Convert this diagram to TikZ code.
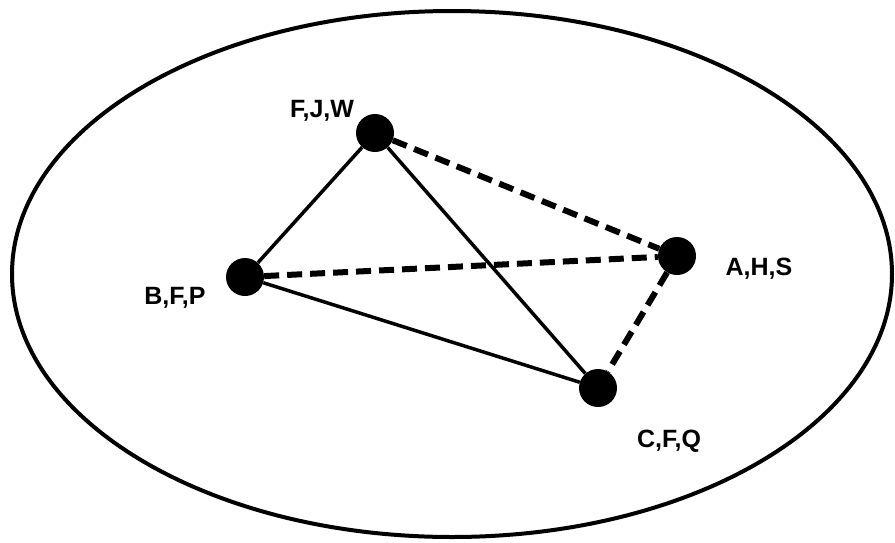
\documentclass[tikz,border=0pt]{standalone}
\usepackage{fontspec}
\setmainfont{Liberation Sans}
\begin{document}
\begin{tikzpicture}[x=1pt,y=-1pt,
  vertex/.style={circle,fill=black,inner sep=0pt,minimum size=38pt},
  lbl/.style={font=\fontsize{25}{28}\selectfont\bfseries,inner sep=0pt},
  solidedge/.style={line width=3.5pt},
  dashedge/.style={line width=6pt,dash pattern=on 15pt off 8pt}]
\useasboundingbox (0,0) rectangle (895,542);
\draw[line width=4pt] (452,274) ellipse [x radius=440, y radius=263];
\node[vertex] (fjw) at (375,133) {};
\node[vertex] (ahs) at (677,256) {};
\node[vertex] (bfp) at (245,277) {};
\node[vertex] (cfq) at (598,388) {};
\draw[solidedge] (fjw) -- (bfp);
\draw[solidedge] (fjw) -- (cfq);
\draw[solidedge] (bfp) -- (cfq);
\draw[dashedge] (fjw) -- (ahs);
\draw[dashedge] (bfp) -- (ahs);
\draw[dashedge] (ahs) -- (cfq);
\node[lbl] (tfjw) at (322,111) {F,J,W};
\node[lbl] (tahs) at (759,269) {A,H,S};
\node[lbl] (tbfp) at (175,298) {B,F,P};
\node[lbl] (tcfq) at (669,441) {C,F,Q};
\end{tikzpicture}
\end{document}
